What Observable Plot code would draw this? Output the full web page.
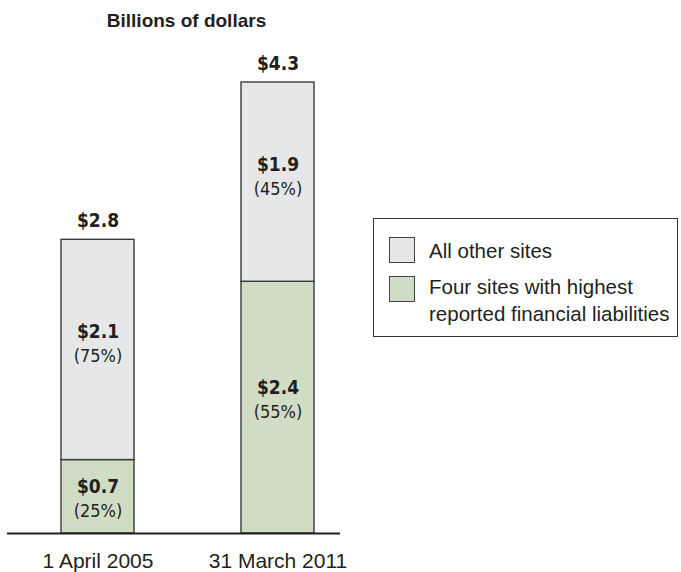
<!DOCTYPE html>
<html>
<head>
<meta charset="utf-8">
<script src="https://cdn.jsdelivr.net/npm/d3@7"></script>
<script src="https://cdn.jsdelivr.net/npm/@observablehq/plot@0.6"></script>
<style>
  html, body { margin: 0; padding: 0; background: #fff; }
  #wrap { position: relative; width: 681px; height: 572px; font-family: "Liberation Sans", Arial, sans-serif; color: #231f20; }
  #title { position: absolute; left: 0; width: 373px; top: 11px; text-align: center; font-size: 19px; line-height: 19px; font-weight: bold; }
  #legend { position: absolute; left: 373px; top: 218px; width: 303px; height: 117px; border: 1.5px solid #333; background: #fff; }
  .item { position: absolute; left: 55px; font-size: 20.5px; line-height: 27px; white-space: nowrap; }
  .sw { position: absolute; left: 15px; width: 24px; height: 24px; border: 1.3px solid #444; }
  svg text { fill: #231f20; }
  svg g[aria-label="text"] text { font-family: "DejaVu Sans", sans-serif; font-stretch: condensed; }
</style>
</head>
<body>
<div id="wrap">
  <div id="chart"></div>
  <div id="title"></div>
  <div id="legend"></div>
</div>
<script>
const title = "Billions of dollars";
const dates = ["1 April 2005", "31 March 2011"];
const seriesNames = ["Four sites with highest reported financial liabilities", "All other sites"];
const legendLines = [["All other sites"], ["Four sites with highest", "reported financial liabilities"]];
const fourSites = [0.7, 2.4];
const otherSites = [2.1, 1.9];
const totals = [2.8, 4.3];
const fourPct = [25, 55];
const otherPct = [75, 45];

const colors = {green: "#d1dcc5", gray: "#e6e7e9"};
const colorRange = [colors.green, colors.gray];

const rows = [];
dates.forEach((d, i) => {
  rows.push({date: d, series: seriesNames[0], value: fourSites[i], pct: fourPct[i], y1: 0, y2: fourSites[i]});
  rows.push({date: d, series: seriesNames[1], value: otherSites[i], pct: otherPct[i], y1: fourSites[i], y2: fourSites[i] + otherSites[i]});
});
const totalRows = dates.map((d, i) => ({date: d, total: totals[i]}));

const labelY = r => r.y1 + 0.555 * (r.y2 - r.y1);

const chart = Plot.plot({
  width: 681,
  height: 572,
  marginLeft: 7,
  marginRight: 341,
  marginTop: 82,
  marginBottom: 39,
  style: {fontFamily: "'Liberation Sans', Arial, sans-serif", color: "#231f20", background: "#fff"},
  x: {domain: dates, paddingInner: 0.597, paddingOuter: 0.2185, align: 0.67, label: null},
  y: {domain: [0, d3.max(totals)], axis: null},
  color: {domain: seriesNames, range: colorRange},
  marks: [
    Plot.barY(rows, {x: "date", y1: "y1", y2: "y2", fill: "series", stroke: "#3a3a3a", strokeWidth: 1.4}),
    Plot.text(rows, {x: "date", y: labelY, text: r => `$${r.value.toFixed(1)}`, lineAnchor: "bottom", fontSize: 19, fontWeight: "bold", fill: "#231f20"}),
    Plot.text(rows, {x: "date", y: labelY, text: r => `(${r.pct}%)`, lineAnchor: "bottom", dy: 24, fontSize: 18, fill: "#231f20"}),
    Plot.text(totalRows, {x: "date", y: "total", text: r => `$${r.total.toFixed(1)}`, lineAnchor: "bottom", dy: -13, fontSize: 19, fontWeight: "bold", fill: "#231f20"}),
    Plot.ruleY([0], {stroke: "#231f20", strokeWidth: 1.8}),
    Plot.axisX({tickSize: 0, tickPadding: 20, fontSize: 21, label: null})
  ]
});
document.getElementById("chart").appendChild(chart);
document.getElementById("title").textContent = title;

const legend = document.getElementById("legend");
const legendColors = [colors.gray, colors.green];
const swatchTops = [18, 57];
const textTops = [18, 54];
legendLines.forEach((lines, i) => {
  const sw = document.createElement("div");
  sw.className = "sw";
  sw.style.top = swatchTops[i] + "px";
  sw.style.background = legendColors[i];
  legend.appendChild(sw);
  const t = document.createElement("div");
  t.className = "item";
  t.style.top = textTops[i] + "px";
  t.innerHTML = lines.join("<br>");
  legend.appendChild(t);
});
</script>
</body>
</html>
